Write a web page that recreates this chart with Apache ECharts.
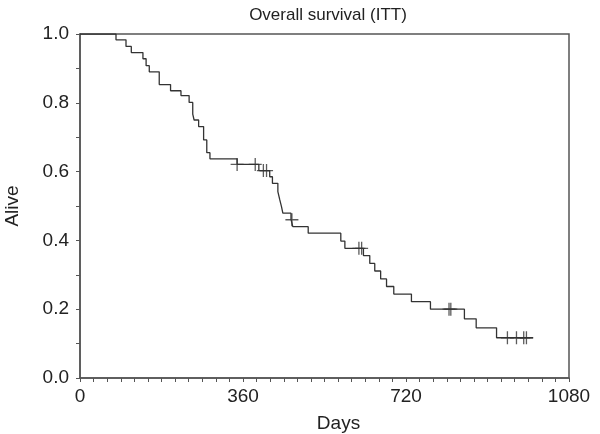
<!DOCTYPE html>
<html>
<head>
<meta charset="utf-8">
<script src="https://cdn.jsdelivr.net/npm/echarts@6/dist/echarts.min.js"></script>
<style>html,body{margin:0;padding:0;background:#fff}#c{width:600px;height:434px}</style>
</head>
<body>
<div id="c"></div>
<script>
var titleText = 'Overall survival (ITT)';
var xName = 'Days';
var yName = 'Alive';
var days = [0, 79.5, 101.6, 113.3, 139, 146, 153, 175, 200, 223, 241, 249, 252, 262, 273, 280, 287, 347, 395, 419, 425, 437, 441, 445, 448, 466, 470, 504, 576, 585, 626, 640, 651, 664, 677, 693, 732, 774, 849, 875, 920, 1001];
var survival = [1, 0.983, 0.964, 0.946, 0.928, 0.908, 0.890, 0.853, 0.835, 0.821, 0.801, 0.767, 0.750, 0.731, 0.692, 0.655, 0.637, 0.621, 0.603, 0.585, 0.566, 0.542, 0.519, 0.498, 0.479, 0.461, 0.440, 0.421, 0.398, 0.377, 0.356, 0.333, 0.311, 0.288, 0.266, 0.244, 0.222, 0.200, 0.172, 0.146, 0.117, 0.117];
var censorDays = [347, 387, 405, 412, 468, 616, 622, 815, 819, 944, 964, 980, 986];
var censorSurv = [0.621, 0.621, 0.603, 0.603, 0.46, 0.377, 0.377, 0.2, 0.2, 0.117, 0.117, 0.117, 0.117];
var xTickLabels = [0, 360, 720, 1080];
var yTickLabels = [0.0, 0.2, 0.4, 0.6, 0.8, 1.0];

var curve = days.map(function (d, i) { return [d, survival[i]]; });
var censors = censorDays.map(function (d, i) { return [d, censorSurv[i]]; });
var font = 'Liberation Sans, Arial, Helvetica, sans-serif';
var chart = echarts.init(document.getElementById('c'), null, {renderer: 'canvas'});
chart.setOption({
  animation: false,
  backgroundColor: '#fff',
  title: {
    text: titleText, left: 323, top: 2, textAlign: 'center',
    textStyle: {fontFamily: font, fontSize: 17, fontWeight: 'normal', color: '#222'}
  },
  grid: {left: 80, right: 31, top: 34, bottom: 56, show: true, borderColor: '#555', borderWidth: 1.5, backgroundColor: 'transparent', outerBoundsMode: 'none'},
  xAxis: {
    type: 'value', min: 0, max: 1080, interval: 30,
    name: xName, nameLocation: 'middle', nameGap: 36,
    nameTextStyle: {fontFamily: font, fontSize: 19, color: '#222', padding: [0, 0, 0, 28]},
    axisLine: {show: true, onZero: false, lineStyle: {color: '#555', width: 1.5}},
    axisTick: {show: true, inside: false, length: 4, lineStyle: {color: '#555', width: 1}},
    splitLine: {show: false},
    axisLabel: {
      fontFamily: font, fontSize: 19, color: '#222', margin: 9, showMinLabel: true, showMaxLabel: true,
      formatter: function (v) { return xTickLabels.indexOf(Math.round(v)) >= 0 ? String(Math.round(v)) : ''; }
    }
  },
  yAxis: {
    type: 'value', min: 0, max: 1, interval: 0.1,
    name: yName, nameLocation: 'middle', nameGap: 58,
    nameTextStyle: {fontFamily: font, fontSize: 19, color: '#222'},
    axisLine: {show: true, onZero: false, lineStyle: {color: '#555', width: 1.5}},
    axisTick: {show: true, inside: false, length: 4, lineStyle: {color: '#555', width: 1}},
    splitLine: {show: false},
    axisLabel: {
      fontFamily: font, fontSize: 19, color: '#222', margin: 11,
      formatter: function (v) {
        var r = Math.round(v * 10) / 10;
        for (var i = 0; i < yTickLabels.length; i++) { if (Math.abs(yTickLabels[i] - r) < 1e-6) return r.toFixed(1); }
        return '';
      }
    }
  },
  series: [
    {
      type: 'line', data: curve, step: 'end', showSymbol: false, symbol: 'none',
      lineStyle: {color: '#333', width: 1.3}, silent: true
    },
    {
      type: 'scatter', data: censors,
      symbol: 'path://M6,0L6,12M0,6L12,6', symbolSize: 13,
      itemStyle: {color: 'rgba(0,0,0,0)', borderColor: '#333', borderWidth: 1.3},
      silent: true
    }
  ]
});
</script>
</body>
</html>
